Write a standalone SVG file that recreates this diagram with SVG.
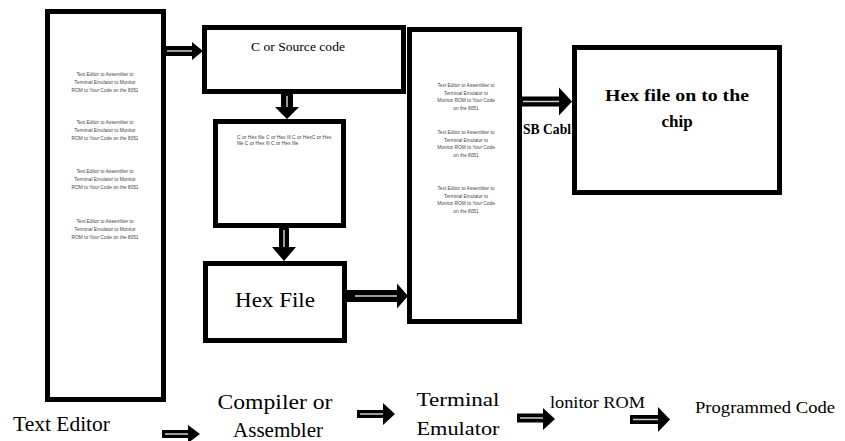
<svg xmlns="http://www.w3.org/2000/svg" width="845" height="441" viewBox="0 0 845 441">
<style>
.box{fill:#fff;stroke:#000;stroke-width:5}
.tiny{font-family:"Liberation Sans",Arial,sans-serif;font-size:4.8px;fill:#444;text-anchor:middle}
.tiny2{font-family:"Liberation Sans",Arial,sans-serif;font-size:5px;fill:#444}
.lbl{font-family:"Liberation Serif","Times New Roman",serif;fill:#000}
.bold{font-family:"Liberation Serif","Times New Roman",serif;font-weight:bold;fill:#000}
.arr{fill:#000}
.inner{stroke:#cfcfcf;stroke-width:1.5;fill:none}
</style>
<rect width="845" height="441" fill="#fff"/>
<g id="n-text-editor-box">
<rect class="box" x="47.5" y="11.5" width="116" height="388"/>
<text class="tiny" x="105" y="76">Text Editor to Assembler to</text>
<text class="tiny" x="105" y="84">Terminal Emulator to Monitor</text>
<text class="tiny" x="105" y="92">ROM to Your Code on the 8051</text>
<text class="tiny" x="105" y="124">Text Editor to Assembler to</text>
<text class="tiny" x="105" y="132">Terminal Emulator to Monitor</text>
<text class="tiny" x="105" y="140">ROM to Your Code on the 8051</text>
<text class="tiny" x="105" y="173">Text Editor to Assembler to</text>
<text class="tiny" x="105" y="181">Terminal Emulator to Monitor</text>
<text class="tiny" x="105" y="189">ROM to Your Code on the 8051</text>
<text class="tiny" x="105" y="223">Text Editor to Assembler to</text>
<text class="tiny" x="105" y="231">Terminal Emulator to Monitor</text>
<text class="tiny" x="105" y="239">ROM to Your Code on the 8051</text>
</g>
<g id="n-source">
<rect class="box" x="204.5" y="27.5" width="199" height="64"/>
<text class="lbl" x="298" y="51" font-size="13" text-anchor="middle" textLength="94" lengthAdjust="spacingAndGlyphs">C or Source code</text>
</g>
<g id="n-hexlist">
<rect class="box" x="215.5" y="121.5" width="128" height="104"/>
<text class="tiny2" x="237" y="139">C or Hex file  C or Hex fil C or HexC or Hex</text>
<text class="tiny2" x="237" y="144.5">file C or Hex fil  C or Hex file</text>
</g>
<g id="n-hexfile">
<rect class="box" x="205.5" y="263.5" width="139" height="77"/>
<text class="lbl" x="275" y="307" font-size="20" text-anchor="middle" textLength="80" lengthAdjust="spacingAndGlyphs">Hex File</text>
</g>
<g id="n-terminal-box">
<rect class="box" x="409.5" y="29.5" width="110" height="292"/>
<text class="tiny" x="466" y="87">Text Editor to Assembler to</text>
<text class="tiny" x="466" y="94.5">Terminal Emulator to</text>
<text class="tiny" x="466" y="102">Monitor ROM to Your Code</text>
<text class="tiny" x="466" y="109.5">on the 8051</text>
<text class="tiny" x="466" y="134">Text Editor to Assembler to</text>
<text class="tiny" x="466" y="141.5">Terminal Emulator to</text>
<text class="tiny" x="466" y="149">Monitor ROM to Your Code</text>
<text class="tiny" x="466" y="156.5">on the 8051</text>
<text class="tiny" x="466" y="190">Text Editor to Assembler to</text>
<text class="tiny" x="466" y="197.5">Terminal Emulator to</text>
<text class="tiny" x="466" y="205">Monitor ROM to Your Code</text>
<text class="tiny" x="466" y="212.5">on the 8051</text>
</g>
<g id="n-chip">
<rect class="box" x="574.5" y="47.5" width="205" height="145"/>
<text class="bold" x="677" y="101" font-size="17" text-anchor="middle" textLength="144" lengthAdjust="spacingAndGlyphs">Hex file on to the</text>
<text class="bold" x="677" y="127" font-size="17" text-anchor="middle">chip</text>
</g>
<g id="n-usb-label">
<text class="bold" x="523" y="134" font-size="15" textLength="48" lengthAdjust="spacingAndGlyphs">SB Cabl</text>
</g>
<g id="n-label-text-editor"><text class="lbl" x="13" y="431" font-size="20" textLength="97" lengthAdjust="spacingAndGlyphs">Text Editor</text></g>
<g id="n-label-compiler">
<text class="lbl" x="275" y="409" font-size="20" text-anchor="middle" textLength="115" lengthAdjust="spacingAndGlyphs">Compiler or</text>
<text class="lbl" x="278" y="437" font-size="20" text-anchor="middle" textLength="90" lengthAdjust="spacingAndGlyphs">Assembler</text>
</g>
<g id="n-label-terminal">
<text class="lbl" x="458" y="406" font-size="18" text-anchor="middle" textLength="83" lengthAdjust="spacingAndGlyphs">Terminal</text>
<text class="lbl" x="458" y="435" font-size="18" text-anchor="middle" textLength="83" lengthAdjust="spacingAndGlyphs">Emulator</text>
</g>
<g id="n-label-monitor"><text class="lbl" x="550" y="408" font-size="17" textLength="95" lengthAdjust="spacingAndGlyphs">lonitor ROM</text></g>
<g id="n-label-programmed"><text class="lbl" x="695" y="413" font-size="16" textLength="140" lengthAdjust="spacingAndGlyphs">Programmed Code</text></g>
<g id="connectors">
<polygon class="arr" points="166,46 192,46 192,42 203,51 192,60 192,56 166,56"/>
<line class="inner" x1="167" y1="51" x2="192" y2="51"/>
<polygon class="arr" points="281,94 281,107 275,107 287,119 299,107 293,107 293,94"/>
<line class="inner" x1="287" y1="96" x2="287" y2="107"/>
<polygon class="arr" points="279,228 279,247 272,247 284,261 296,247 289,247 289,228"/>
<line class="inner" x1="284" y1="230" x2="284" y2="247"/>
<polygon class="arr" points="347,290 397,290 397,283.5 408,296 397,308.5 397,302 347,302"/>
<line class="inner" x1="355" y1="296" x2="397" y2="296"/>
<polygon class="arr" points="522,96.5 559,96.5 559,87.5 572,101.5 559,115.5 559,106.5 522,106.5"/>
<line class="inner" x1="523" y1="101.5" x2="559" y2="101.5"/>
<polygon class="arr" points="162,430 188,430 188,425 200,434 188,443 188,438 162,438"/>
<line class="inner" x1="165" y1="434" x2="188" y2="434"/>
<polygon class="arr" points="357,410 383,410 383,403 395,414 383,425 383,418 357,418"/>
<line class="inner" x1="360" y1="414" x2="383" y2="414"/>
<polygon class="arr" points="517,413.5 543,413.5 543,408 555,419 543,430 543,422.5 517,422.5"/>
<line class="inner" x1="520" y1="418" x2="543" y2="418"/>
<polygon class="arr" points="630,415 658,415 658,407 670,419.5 658,432 658,424 630,424"/>
<line class="inner" x1="633" y1="419.5" x2="658" y2="419.5"/>
</g>
</svg>
